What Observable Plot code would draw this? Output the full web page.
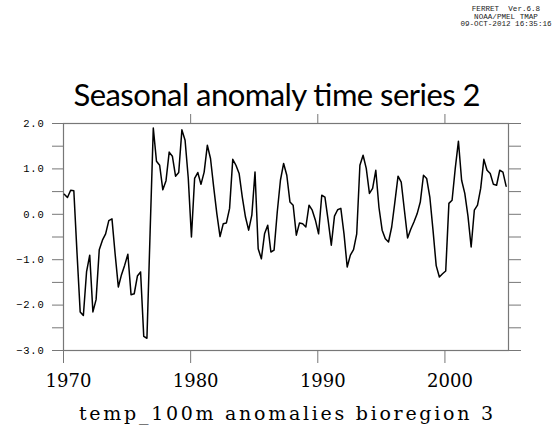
<!DOCTYPE html>
<html>
<head>
<meta charset="utf-8">
<script src="https://cdn.jsdelivr.net/npm/d3@7"></script>
<script src="https://cdn.jsdelivr.net/npm/@observablehq/plot@0.6"></script>
<style>
  html, body { margin: 0; padding: 0; background: #fff; }
  #chart { width: 558px; height: 429px; }
</style>
</head>
<body>
<div id="chart"></div>
<script>
// Seasonal anomalies, quarterly from 1970
const startYear = 1970;
const values = [
  0.44, 0.37, 0.53, 0.52, -0.85, -2.15, -2.23, -1.27, -0.90, -2.15,
  -1.88, -0.78, -0.57, -0.43, -0.14, -0.10, -0.88, -1.60, -1.33, -1.12,
  -0.88, -1.77, -1.75, -1.36, -1.27, -2.69, -2.73, -0.39, 1.90, 1.17,
  1.08, 0.54, 0.74, 1.37, 1.28, 0.84, 0.92, 1.86, 1.63, 0.80,
  -0.50, 0.79, 0.92, 0.66, 0.93, 1.52, 1.23, 0.60, 0.01, -0.49,
  -0.21, -0.19, 0.13, 1.21, 1.08, 0.90, 0.38, -0.06, -0.35, -0.02,
  0.93, -0.76, -0.98, -0.43, -0.24, -0.83, -0.79, 0.05, 0.75, 1.12,
  0.86, 0.27, 0.20, -0.46, -0.19, -0.21, -0.28, 0.20, 0.09, -0.13,
  -0.43, 0.42, 0.38, -0.13, -0.68, -0.04, 0.10, 0.13, -0.43, -1.16,
  -0.90, -0.78, -0.43, 1.08, 1.30, 1.01, 0.46, 0.57, 0.97, 0.15,
  -0.35, -0.54, -0.61, -0.28, 0.27, 0.84, 0.71, 0.09, -0.52, -0.33,
  -0.17, 0.01, 0.27, 0.86, 0.79, 0.38, -0.35, -1.13, -1.38, -1.31,
  -1.25, 0.24, 0.31, 1.01, 1.61, 0.75, 0.46, -0.04, -0.72, 0.09,
  0.20, 0.57, 1.21, 0.97, 0.90, 0.66, 0.64, 0.97, 0.93, 0.62
];
const xTickLabels = [1970, 1980, 1990, 2000];
const xTopTicks = [1980, 1990, 2000];
const yLabelTicks = [-3, -2, -1, 0, 1, 2];
const yMinorTicks = [-3, -2.5, -2, -1.5, -1, -0.5, 0, 0.5, 1, 1.5, 2];
const title = "Seasonal anomaly time series 2";
const caption = "temp_100m anomalies bioregion 3";
const stamp = ["FERRET  Ver.6.8", "NOAA/PMEL TMAP", "09-OCT-2012 16:35:16"];

const data = values.map((v, i) => ({t: startYear + 0.0625 + i * 0.25, v}));
const fmtY = d => (d < 0 ? "\u2212" : "") + Math.abs(d).toFixed(1);
const frameColor = "#777";

const chart = Plot.plot({
  width: 558,
  height: 429,
  marginLeft: 63,
  marginRight: 50,
  marginTop: 123,
  marginBottom: 79,
  x: {domain: [1970, 2005]},
  y: {domain: [-3, 2]},
  style: {background: "#fff", color: "#000"},
  marks: [
    Plot.frame({stroke: frameColor, strokeWidth: 1.2}),
    Plot.axisY(yMinorTicks, {anchor: "left", tickSize: 11, tickFormat: () => "", stroke: frameColor, label: null}),
    Plot.axisY(yMinorTicks, {anchor: "right", tickSize: 12, tickFormat: () => "", stroke: frameColor, label: null}),
    Plot.axisY(yLabelTicks, {anchor: "left", tickSize: 0, tickPadding: 19, tickFormat: fmtY, label: null,
      fontFamily: "Liberation Mono", fontSize: 10.5, fill: "#000"}),
    Plot.axisX(xTopTicks, {anchor: "top", tickSize: 10, tickFormat: () => "", stroke: frameColor, label: null}),
    Plot.axisX(xTickLabels, {anchor: "bottom", tickSize: 13, tickFormat: () => "", stroke: frameColor, label: null}),
    Plot.axisX(xTickLabels, {anchor: "bottom", tickSize: 0, tickPadding: 24, tickFormat: d => String(d), label: null,
      fontFamily: "DejaVu Serif", fontSize: 18, dx: 5, fill: "#000"}),
    Plot.line(data, {x: "t", y: "v", stroke: "#000", strokeWidth: 1.5})
  ]
});

const svg = d3.select(chart);
svg.style("font-family", "Liberation Mono");
svg.selectAll("[aria-label='y-axis tick label'] text, [aria-label='y-axis tick label']")
   .attr("letter-spacing", "0.8");

svg.append("text")
  .attr("x", 277).attr("y", 106)
  .attr("text-anchor", "middle")
  .attr("font-family", "Lato")
  .attr("font-size", 31)
  .attr("fill", "#000")
  .attr("textLength", 407).attr("lengthAdjust", "spacing")
  .text(title);

svg.append("text")
  .attr("x", 286).attr("y", 420)
  .attr("text-anchor", "middle")
  .attr("font-family", "DejaVu Serif")
  .attr("font-size", 19)
  .attr("fill", "#000")
  .attr("textLength", 414).attr("lengthAdjust", "spacing")
  .text(caption);

stamp.forEach((s, i) => {
  svg.append("text")
    .attr("x", 506).attr("y", 11 + i * 7.5)
    .attr("text-anchor", "middle")
    .attr("font-family", "Liberation Mono")
    .attr("font-size", 7.6)
    .attr("fill", "#222")
    .attr("xml:space", "preserve")
    .style("white-space", "pre")
    .text(s);
});

document.getElementById("chart").appendChild(chart);
</script>
</body>
</html>
